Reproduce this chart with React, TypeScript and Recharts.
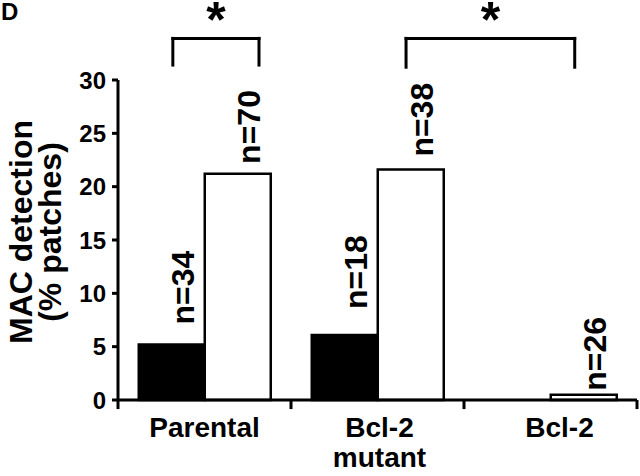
import React from "react";
import {
  BarChart,
  Bar,
  XAxis,
  YAxis,
  LabelList,
  ReferenceLine,
  ReferenceDot,
  Label,
} from "recharts";

// ---- data ----
const categories = ["Parental", "Bcl-2\nmutant", "Bcl-2"];
const blackValues = [5.2, 6.1, 0];
const whiteValues = [21.2, 21.6, 0.5];
const blackCounts = ["n=34", "n=18", ""];
const whiteCounts = ["n=70", "n=38", "n=26"];
const yTicks = [0, 5, 10, 15, 20, 25, 30];
const categoryBounds = [0, 1, 2, 3];
// significance brackets in (category-index, % units)
const bracketFrom = [0.317, 1.665];
const bracketTo = [0.815, 2.64];
const bracketLow = [31.4, 31.2];
const bracketHigh = [33.9, 33.9];
const bracketMark = ["*", "*"];

// ---- layout / style (not data) ----
const FONT = "'Liberation Sans', Arial, Helvetica, sans-serif";
const blackLabelGap = [20, 26, 0];
const whiteLabelGap = [10, 13, 4];
const categoryLabelShift = [0, 2, 9];

const data = categories.map((c, i) => ({
  category: c,
  pos: i + 0.5,
  black: blackValues[i],
  white: whiteValues[i],
  blackN: blackCounts[i],
  whiteN: whiteCounts[i],
}));

const makeCountLabel = (gaps: number[]) => (props: any) => {
  const { x, y, width, value, index } = props;
  if (!value) return null;
  const bx = Number(x) + Number(width) / 2 + 22;
  const by = Number(y) - gaps[index];
  return (
    <text
      x={bx}
      y={by}
      transform={`rotate(-90, ${bx}, ${by})`}
      textAnchor="start"
      fontSize={32}
      fontWeight="bold"
      fontFamily={FONT}
      fill="#000"
    >
      {value}
    </text>
  );
};

const CategoryTick = (props: any) => {
  const { x, y, payload, index } = props;
  const lines = String(payload.value).split("\n");
  const cx = Number(x) + (categoryLabelShift[index] || 0);
  return (
    <text
      x={cx}
      y={y}
      textAnchor="middle"
      fontSize={28}
      fontWeight="bold"
      fontFamily={FONT}
      fill="#000"
    >
      {lines.map((l, i) => (
        <tspan key={i} x={cx} dy={i === 0 ? 37 : 30}>
          {l}
        </tspan>
      ))}
    </text>
  );
};

const YLabel = (props: any) => {
  const vb = props.viewBox || { x: 0, y: 80, width: 118, height: 320 };
  const cy = vb.y + vb.height / 2 - 8;
  const x1 = vb.x + 32;
  const x2 = vb.x + 61;
  const common = {
    textAnchor: "middle" as const,
    fontSize: 32,
    fontWeight: "bold",
    fontFamily: FONT,
    fill: "#000",
  };
  return (
    <g>
      <text x={x1} y={cy} transform={`rotate(-90, ${x1}, ${cy})`} {...common}>
        MAC detection
      </text>
      <text x={x2} y={cy} transform={`rotate(-90, ${x2}, ${cy})`} {...common}>
        (% patches)
      </text>
    </g>
  );
};

const Star = (mark: string) => (p: any) => (
  <text
    x={p.cx}
    y={p.cy}
    dy="0.55em"
    textAnchor="middle"
    fontSize={50}
    fontWeight="bold"
    fontFamily={FONT}
    fill="#000"
  >
    {mark}
  </text>
);

export default function App() {
  return (
    <div style={{ position: "absolute", left: 0, top: 0, width: 640, height: 476, background: "#fff" }}>
      <div
        style={{
          position: "absolute",
          left: 1,
          top: 0,
          fontFamily: FONT,
          fontWeight: "bold",
          fontSize: 24,
          lineHeight: "24px",
          color: "#000",
        }}
      >
        D
      </div>
      <BarChart
        width={640}
        height={476}
        data={data}
        margin={{ top: 80, right: 3, bottom: 0, left: 0 }}
        barCategoryGap="12%"
        barGap={0}
      >
        <XAxis
          dataKey="category"
          tick={<CategoryTick />}
          tickLine={false}
          tickSize={0}
          tickMargin={0}
          axisLine={{ stroke: "#000", strokeWidth: 3 }}
          height={76}
          interval={0}
        />
        <XAxis
          xAxisId="n"
          dataKey="pos"
          type="number"
          domain={[0, 3]}
          ticks={categoryBounds}
          hide
          allowDataOverflow
        />
        <YAxis
          domain={[0, 30]}
          ticks={yTicks}
          interval={0}
          width={118}
          tickSize={6}
          tickMargin={6}
          axisLine={{ stroke: "#000", strokeWidth: 3 }}
          tickLine={{ stroke: "#000", strokeWidth: 3 }}
          tick={{ fill: "#000", fontSize: 24, fontWeight: "bold", fontFamily: FONT }}
        >
          <Label content={YLabel} />
        </YAxis>
        <Bar dataKey="black" fill="#000" stroke="#000" strokeWidth={2.5} isAnimationActive={false}>
          <LabelList dataKey="blackN" content={makeCountLabel(blackLabelGap)} />
        </Bar>
        <Bar dataKey="white" fill="#fff" stroke="#000" strokeWidth={2.5} isAnimationActive={false}>
          <LabelList dataKey="whiteN" content={makeCountLabel(whiteLabelGap)} />
        </Bar>
        {categoryBounds.map((b) => (
          <ReferenceLine
            key={`b${b}`}
            xAxisId="n"
            segment={[
              { x: b, y: 0 },
              { x: b, y: -0.85 },
            ]}
            stroke="#000"
            strokeWidth={3}
            ifOverflow="visible"
          />
        ))}
        {bracketFrom.map((f, i) => [
          <ReferenceLine
            key={`bl${i}`}
            xAxisId="n"
            segment={[
              { x: f, y: bracketLow[i] },
              { x: f, y: bracketHigh[i] },
            ]}
            stroke="#000"
            strokeWidth={3}
            strokeLinecap="square"
            ifOverflow="visible"
          />,
          <ReferenceLine
            key={`bt${i}`}
            xAxisId="n"
            segment={[
              { x: f, y: bracketHigh[i] },
              { x: bracketTo[i], y: bracketHigh[i] },
            ]}
            stroke="#000"
            strokeWidth={3}
            strokeLinecap="square"
            ifOverflow="visible"
          />,
          <ReferenceLine
            key={`br${i}`}
            xAxisId="n"
            segment={[
              { x: bracketTo[i], y: bracketLow[i] },
              { x: bracketTo[i], y: bracketHigh[i] },
            ]}
            stroke="#000"
            strokeWidth={3}
            strokeLinecap="square"
            ifOverflow="visible"
          />,
          <ReferenceDot
            key={`s${i}`}
            xAxisId="n"
            x={(f + bracketTo[i]) / 2}
            y={36.6}
            r={0}
            ifOverflow="visible"
            shape={Star(bracketMark[i])}
          />,
        ])}
      </BarChart>
    </div>
  );
}
